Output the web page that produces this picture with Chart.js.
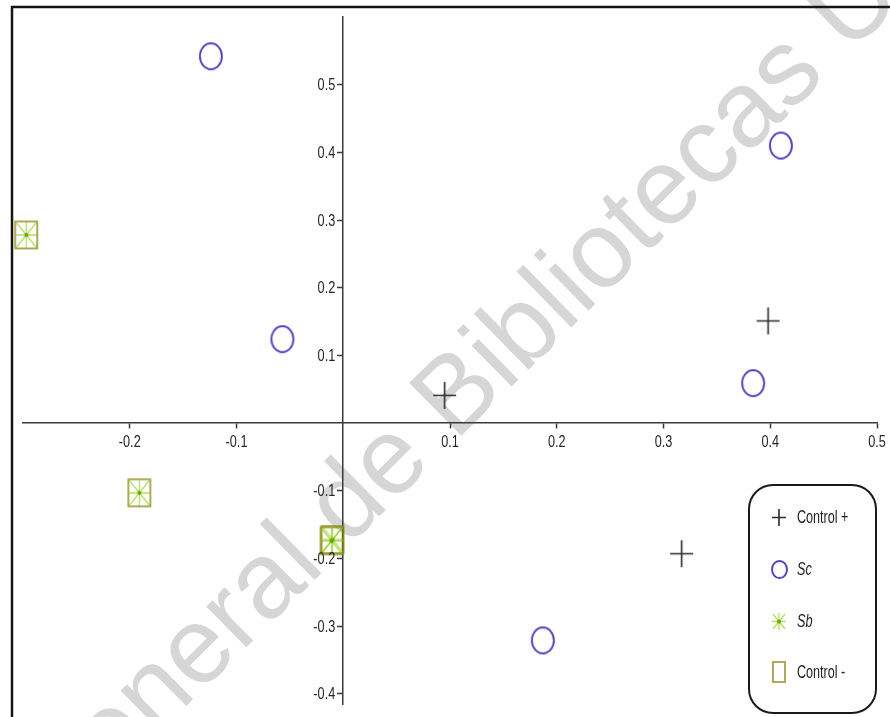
<!DOCTYPE html>
<html>
<head>
<meta charset="utf-8">
<script src="https://cdn.jsdelivr.net/npm/chart.js@4.4.1/dist/chart.umd.min.js"></script>
<style>
  html, body { margin: 0; padding: 0; background: #fff; }
  #wrap { width: 890px; height: 717px; position: relative; overflow: hidden; }
</style>
</head>
<body>
<div id="wrap"><canvas id="c" width="890" height="717"></canvas></div>
<script>
// Component scores per treatment group
const seriesLabels = ['Control +', 'Sc', 'Sb', 'Control -'];
const controlPlusX = [0.398, 0.095, 0.317];
const controlPlusY = [0.151, 0.041, -0.193];
const scX = [-0.124, 0.410, -0.057, 0.384, 0.187];
const scY = [0.542, 0.410, 0.124, 0.059, -0.321];
const sbX = [-0.297, -0.191, -0.010, -0.011];
const sbY = [0.278, -0.103, -0.172, -0.174];
const controlMinusX = [-0.297, -0.191, -0.010, -0.011];
const controlMinusY = [0.278, -0.103, -0.172, -0.174];
const xTickValues = [-0.2, -0.1, 0.1, 0.2, 0.3, 0.4, 0.5];
const yTickValues = [-0.4, -0.3, -0.2, -0.1, 0.1, 0.2, 0.3, 0.4, 0.5];

const FONT_FAMILY = "'Liberation Sans', Arial, sans-serif";

// Marker sprites (slightly taller than wide)
function markerCanvas(kind, w, h) {
  const pad = 2;
  const c = document.createElement('canvas');
  c.width = w + pad * 2;
  c.height = h + pad * 2;
  const g = c.getContext('2d');
  g.translate(pad, pad);
  const cx = w / 2, cy = h / 2;
  g.lineCap = 'butt';
  if (kind === 'cross') {
    g.strokeStyle = '#2a2a2a';
    g.lineWidth = 1.6;
    g.beginPath();
    g.moveTo(0, cy); g.lineTo(w, cy);
    g.moveTo(cx, 0); g.lineTo(cx, h);
    g.stroke();
  } else if (kind === 'ellipse') {
    g.strokeStyle = '#4f45bd';
    g.lineWidth = 1.9;
    g.beginPath();
    g.ellipse(cx, cy, cx - 1, cy - 1, 0, 0, Math.PI * 2);
    g.stroke();
  } else if (kind === 'star') {
    g.strokeStyle = 'rgba(135,200,0,0.62)';
    g.lineWidth = 1.3;
    g.beginPath();
    g.moveTo(0, cy); g.lineTo(w, cy);
    g.moveTo(cx, 0); g.lineTo(cx, h);
    g.moveTo(1, 1); g.lineTo(w - 1, h - 1);
    g.moveTo(w - 1, 1); g.lineTo(1, h - 1);
    g.stroke();
    g.fillStyle = 'rgba(90,160,0,0.85)';
    g.beginPath();
    g.arc(cx, cy, 2, 0, Math.PI * 2);
    g.fill();
  } else if (kind === 'square') {
    g.strokeStyle = 'rgba(130,125,0,0.72)';
    g.lineWidth = 1.8;
    g.strokeRect(1, 1, w - 2, h - 2);
  }
  return c;
}

const plotMarkers = {
  cross: markerCanvas('cross', 23, 27),
  ellipse: markerCanvas('ellipse', 24, 28),
  star: markerCanvas('star', 23, 28),
  square: markerCanvas('square', 24, 29)
};
const legendMarkers = [
  markerCanvas('cross', 14, 17),
  markerCanvas('ellipse', 17, 19),
  markerCanvas('star', 14, 17),
  markerCanvas('square', 14, 22)
];

const toPoints = (xs, ys) => xs.map((x, i) => ({ x, y: ys[i] }));
const fmt = v => String(Math.round(v * 10) / 10);

// Condensed text helper
function narrowText(ctx, text, px, py, align, squeeze) {
  ctx.save();
  ctx.translate(px, py);
  ctx.scale(squeeze, 1);
  ctx.textAlign = align;
  ctx.textBaseline = 'middle';
  ctx.fillText(text, 0, 0);
  ctx.restore();
}

// Faint diagonal library stamp behind the plot
const stampPlugin = {
  id: 'stamp',
  beforeDraw(chart) {
    const ctx = chart.ctx;
    ctx.save();
    ctx.translate(455, 442);
    ctx.rotate(-44.5 * Math.PI / 180);
    ctx.font = "108px 'Liberation Sans', Arial, sans-serif";
    ctx.fillStyle = '#d6d6d6';
    ctx.textBaseline = 'alphabetic';
    ctx.textAlign = 'right';
    ctx.fillText('Dirección General de ', 0, 0);
    ctx.textAlign = 'left';
    ctx.fillText('Bibliotecas UAQ', 0, 0);
    ctx.restore();
  }
};

// Tick labels placed beside the crossing axes
const axisLabelPlugin = {
  id: 'axisLabels',
  afterDraw(chart) {
    const { ctx, scales } = chart;
    const xs = scales.x, ys = scales.y;
    const x0 = xs.getPixelForValue(0);
    const y0 = ys.getPixelForValue(0);
    ctx.save();
    ctx.font = '16.5px ' + FONT_FAMILY;
    ctx.fillStyle = '#262626';
    xTickValues.forEach(v => narrowText(ctx, fmt(v), xs.getPixelForValue(v), y0 + 19, 'center', 0.77));
    yTickValues.forEach(v => narrowText(ctx, fmt(v), x0 - 8, ys.getPixelForValue(v) + 1, 'right', 0.77));
    ctx.restore();
  }
};

// Outer frame and rounded legend box
const framePlugin = {
  id: 'frame',
  afterDraw(chart) {
    const ctx = chart.ctx;
    ctx.save();
    ctx.strokeStyle = '#151515';
    ctx.lineWidth = 2.5;
    ctx.beginPath();
    ctx.moveTo(12, 717);
    ctx.lineTo(12, 7);
    ctx.lineTo(890, 7);
    ctx.stroke();

    const L = 749, T = 485, R = 876, B = 713, rad = 24;
    ctx.beginPath();
    ctx.moveTo(L + rad, T);
    ctx.lineTo(R - rad, T);
    ctx.arcTo(R, T, R, T + rad, rad);
    ctx.lineTo(R, B - rad);
    ctx.arcTo(R, B, R - rad, B, rad);
    ctx.lineTo(L + rad, B);
    ctx.arcTo(L, B, L, B - rad, rad);
    ctx.lineTo(L, T + rad);
    ctx.arcTo(L, T, L + rad, T, rad);
    ctx.closePath();
    ctx.fillStyle = '#fff';
    ctx.fill();
    ctx.lineWidth = 2;
    ctx.strokeStyle = '#1a1a1a';
    ctx.stroke();

    const rowY = [517, 569, 621, 672];
    chart.data.datasets.forEach((ds, i) => {
      const m = legendMarkers[i];
      ctx.drawImage(m, Math.round(779 - m.width / 2), Math.round(rowY[i] - m.height / 2));
      const italic = ds.label === 'Sc' || ds.label === 'Sb';
      ctx.font = (italic ? 'italic ' : '') + '18px ' + FONT_FAMILY;
      ctx.fillStyle = '#1e1e1e';
      narrowText(ctx, ds.label, 797, rowY[i] + 1, 'left', 0.70);
    });
    ctx.restore();
  }
};

const axisGrid = { drawOnChartArea: false, drawTicks: true, tickLength: 5, tickWidth: 1.5, tickColor: '#3a3a3a' };
const axisBorder = { display: true, color: '#3a3a3a', width: 1.5 };

new Chart(document.getElementById('c'), {
  type: 'scatter',
  data: {
    datasets: [
      { label: seriesLabels[0], data: toPoints(controlPlusX, controlPlusY), pointStyle: plotMarkers.cross, pointRadius: 12, clip: false },
      { label: seriesLabels[1], data: toPoints(scX, scY), pointStyle: plotMarkers.ellipse, pointRadius: 12, clip: false },
      { label: seriesLabels[2], data: toPoints(sbX, sbY), pointStyle: plotMarkers.star, pointRadius: 12, clip: false },
      { label: seriesLabels[3], data: toPoints(controlMinusX, controlMinusY), pointStyle: plotMarkers.square, pointRadius: 12, clip: false }
    ]
  },
  options: {
    responsive: false,
    animation: false,
    events: [],
    layout: { padding: { left: 23, right: 13, top: 17, bottom: 0 } },
    plugins: {
      legend: { display: false },
      tooltip: { enabled: false },
      title: { display: false }
    },
    scales: {
      x: {
        type: 'linear',
        min: -0.3,
        max: 0.5,
        position: { y: 0 },
        afterBuildTicks: s => { s.ticks = xTickValues.map(v => ({ value: v })); },
        afterFit: s => { s.paddingLeft = 0; s.paddingRight = 0; },
        grid: axisGrid,
        border: axisBorder,
        ticks: { display: false }
      },
      y: {
        type: 'linear',
        min: -0.415,
        max: 0.6,
        position: { x: 0 },
        afterBuildTicks: s => { s.ticks = yTickValues.map(v => ({ value: v })); },
        afterFit: s => { s.paddingTop = 0; s.paddingBottom = 0; },
        grid: axisGrid,
        border: axisBorder,
        ticks: { display: false }
      }
    }
  },
  plugins: [stampPlugin, axisLabelPlugin, framePlugin]
});
</script>
</body>
</html>
